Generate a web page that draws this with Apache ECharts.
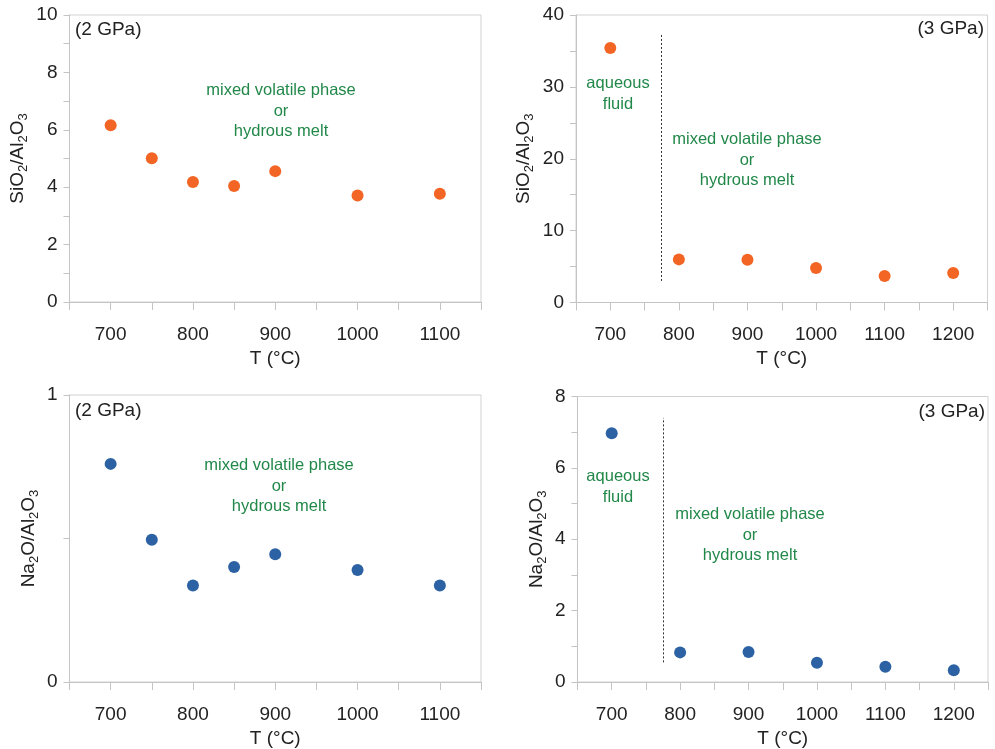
<!DOCTYPE html>
<html>
<head>
<meta charset="utf-8">
<script src="https://cdn.jsdelivr.net/npm/echarts@6/dist/echarts.min.js"></script>
<style>html,body{margin:0;padding:0;background:#fff;}#c{width:995px;height:749px;}</style>
</head>
<body>
<div id="c"></div>
<script>
// ---- data ----
const temps2GPa = [700, 750, 800, 850, 900, 1000, 1100];
const temps3GPa = [700, 800, 900, 1000, 1100, 1200];
const sio2Al2o3_2GPa = [6.16, 5.01, 4.18, 4.04, 4.56, 3.71, 3.77];
const sio2Al2o3_3GPa = [35.4, 6.0, 5.95, 4.8, 3.7, 4.1];
const na2oAl2o3_2GPa = [0.76, 0.496, 0.336, 0.401, 0.445, 0.39, 0.336];
const na2oAl2o3_3GPa = [6.97, 0.83, 0.84, 0.54, 0.43, 0.33];
const boundaryT = 775;
const boundarySiO2 = [3, 37.5];
const boundaryNa2O = [0.55, 7.4];
const xTicks2GPa = [700, 800, 900, 1000, 1100];
const xTicks3GPa = [700, 800, 900, 1000, 1100, 1200];

const FONT = '"Liberation Sans", Arial, sans-serif';
const AX = '#c4c4c4';
const TXT = '#222';
const GREEN = '#22884a';
const ORANGE = '#f26524';
const BLUE = '#2c62a3';

const zip = (xs, ys) => xs.map((x, i) => [x, ys[i]]);

const ySub = (parts) => parts.map(p => p[1] ? '{s|' + p[0] + '}' : '{n|' + p[0] + '}').join('');
const nameSiO2 = ySub([['SiO',0],['2',1],['/Al',0],['2',1],['O',0],['3',1]]);
const nameNa2O = ySub([['Na',0],['2',1],['O/Al',0],['2',1],['O',0],['3',1]]);
const richName = {
  n: {fontSize: 19, fontFamily: FONT, color: TXT, lineHeight: 24},
  s: {fontSize: 13, fontFamily: FONT, color: TXT, lineHeight: 11, verticalAlign: 'bottom'}
};

function xAxis(gi, max, ticks) {
  return {
    gridIndex: gi, type: 'value', min: 650, max: max, interval: 50,
    name: 'T (°C)', nameLocation: 'middle', nameGap: 47,
    nameTextStyle: {fontSize: 19, fontFamily: FONT, color: TXT},
    axisLine: {show: true, lineStyle: {color: AX, width: 1}},
    axisTick: {show: true, inside: false, length: 8, lineStyle: {color: AX}},
    axisLabel: {fontSize: 19, fontFamily: FONT, color: TXT, margin: 23,
      formatter: v => ticks.indexOf(v) >= 0 ? String(v) : ''},
    splitLine: {show: false}
  };
}
function yAxis(gi, max, interval, name, gap, minor, labelFn) {
  return {
    gridIndex: gi, type: 'value', min: 0, max: max, interval: interval,
    name: name, nameLocation: 'middle', nameGap: gap,
    nameTextStyle: {rich: richName, fontSize: 19, fontFamily: FONT, color: TXT},
    axisLine: {show: true, lineStyle: {color: AX, width: 1}},
    axisTick: {show: true, inside: false, length: 6, lineStyle: {color: AX}},
    minorTick: {show: minor, splitNumber: 2, length: 6, lineStyle: {color: AX}},
    axisLabel: {fontSize: 19, fontFamily: FONT, color: TXT, margin: 12,
      formatter: labelFn || (v => String(v))},
    splitLine: {show: false}
  };
}
function scatter(gi, data, color, boundaryY) {
  const s = {
    type: 'scatter', xAxisIndex: gi, yAxisIndex: gi, data: data,
    symbol: 'circle', symbolSize: 12, itemStyle: {color: color, opacity: 1}, silent: true
  };
  if (boundaryY) {
    s.markLine = {
      silent: true, symbol: ['none', 'none'], label: {show: false},
      lineStyle: {color: '#333', type: [2, 2], width: 1},
      data: [[{coord: [boundaryT, boundaryY[0]]}, {coord: [boundaryT, boundaryY[1]]}]]
    };
  }
  return s;
}
function txt(x, y, text, color, align, size, lh) {
  return {type: 'text', x: x, y: y, silent: true,
    style: {text: text, fill: color, font: size + 'px ' + FONT, textAlign: align,
      textVerticalAlign: 'middle', lineHeight: lh || size}};
}

const grids = [
  {left: 69.5, top: 15, width: 411.5, height: 287},
  {left: 576, top: 15, width: 411.5, height: 287.5},
  {left: 69.5, top: 395, width: 411.5, height: 288},
  {left: 577.5, top: 396.5, width: 410.5, height: 288.5}
].map(g => Object.assign({show: true, borderColor: '#d2d2d2', borderWidth: 1, backgroundColor: 'transparent'}, g));

const option = {
  animation: false,
  backgroundColor: '#fff',
  grid: grids,
  xAxis: [xAxis(0, 1150, xTicks2GPa), xAxis(1, 1250, xTicks3GPa), xAxis(2, 1150, xTicks2GPa), xAxis(3, 1250, xTicks3GPa)],
  yAxis: [
    yAxis(0, 10, 2, nameSiO2, 40, true),
    yAxis(1, 40, 10, nameSiO2, 40, true),
    yAxis(2, 1, 0.5, nameNa2O, 29, false, v => (v === 0 || v === 1) ? String(v) : ''),
    yAxis(3, 8, 2, nameNa2O, 29, true)
  ],
  series: [
    scatter(0, zip(temps2GPa, sio2Al2o3_2GPa), ORANGE),
    scatter(1, zip(temps3GPa, sio2Al2o3_3GPa), ORANGE, boundarySiO2),
    scatter(2, zip(temps2GPa, na2oAl2o3_2GPa), BLUE),
    scatter(3, zip(temps3GPa, na2oAl2o3_3GPa), BLUE, boundaryNa2O)
  ],
  graphic: [
    txt(75, 30, '(2 GPa)', TXT, 'left', 19),
    txt(281, 111, 'mixed volatile phase\nor\nhydrous melt', GREEN, 'center', 16.5, 20.5),
    txt(984, 29, '(3 GPa)', TXT, 'right', 19),
    txt(618, 94, 'aqueous\nfluid', GREEN, 'center', 16.5, 20.5),
    txt(747, 160, 'mixed volatile phase\nor\nhydrous melt', GREEN, 'center', 16.5, 20.5),
    txt(75, 411, '(2 GPa)', TXT, 'left', 19),
    txt(279, 486, 'mixed volatile phase\nor\nhydrous melt', GREEN, 'center', 16.5, 20.5),
    txt(985, 412, '(3 GPa)', TXT, 'right', 19),
    txt(618, 487, 'aqueous\nfluid', GREEN, 'center', 16.5, 20.5),
    txt(750, 535, 'mixed volatile phase\nor\nhydrous melt', GREEN, 'center', 16.5, 20.5)
  ]
};
const chart = echarts.init(document.getElementById('c'), null, {renderer: 'canvas'});
chart.setOption(option);
</script>
</body>
</html>
